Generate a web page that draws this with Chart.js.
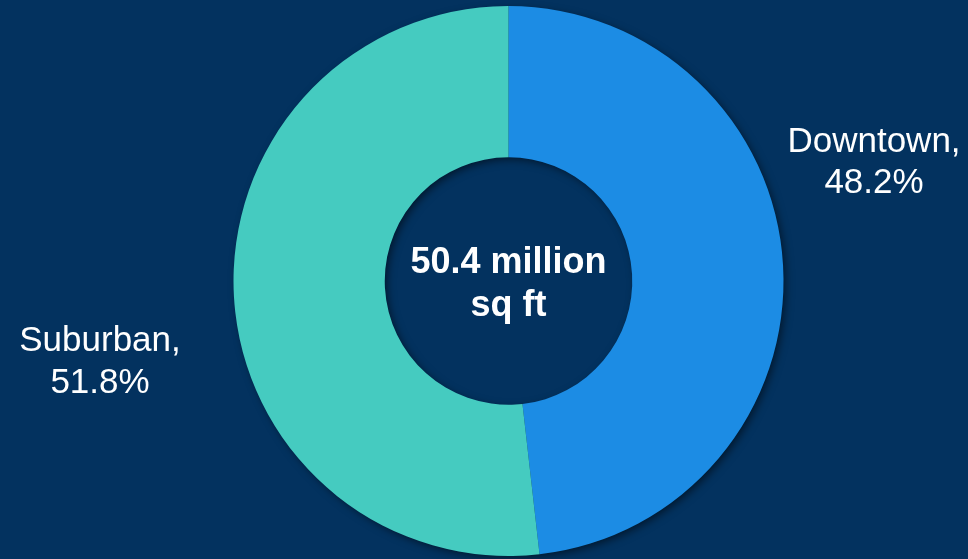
<!DOCTYPE html>
<html lang="en">
<head>
  <meta charset="UTF-8" />
  <title>Office space by location</title>
  <script src="https://cdn.jsdelivr.net/npm/chart.js"></script>
  <style>
    html, body { margin: 0; padding: 0; background: #03325f; }
    #wrap { position: relative; width: 968px; height: 559px; }
  </style>
</head>
<body>
  <div id="wrap"><canvas id="chartSpace"></canvas></div>

<script>
  // Date
  const categories = ['Downtown', 'Suburban'];
  const shares = [48.2, 51.8];
  const sliceColors = ['#1c8ce4', '#45cbc0'];
  const totalText = ['50.4 million', 'sq ft'];

  const FONT = '"Liberation Sans", Arial, sans-serif';

  // umbra sub inel + texte
  const ringExtras = {
    id: 'ringExtras',
    beforeDatasetsDraw(chart) {
      const arc = chart.getDatasetMeta(0).data[0];
      if (!arc) return;
      const { x, y, outerRadius, innerRadius } = arc.getProps(['x', 'y', 'outerRadius', 'innerRadius'], true);
      const ctx = chart.ctx;
      ctx.save();
      ctx.shadowColor = 'rgba(0, 0, 0, 0.55)';
      ctx.shadowBlur = 9;
      ctx.shadowOffsetX = 3;
      ctx.shadowOffsetY = 3;
      ctx.fillStyle = '#03325f';
      ctx.beginPath();
      ctx.arc(x, y, outerRadius - 1, 0, Math.PI * 2);
      ctx.arc(x, y, innerRadius + 1, 0, Math.PI * 2, true);
      ctx.fill();
      ctx.restore();
    },
    afterDatasetsDraw(chart) {
      const ctx = chart.ctx;
      const arc = chart.getDatasetMeta(0).data[0];
      const { x, y } = arc.getProps(['x', 'y'], true);
      ctx.save();
      ctx.fillStyle = '#ffffff';
      ctx.textAlign = 'center';
      ctx.textBaseline = 'alphabetic';

      ctx.font = 'bold 36px ' + FONT;
      ctx.fillText(totalText[0], x, y - 8);
      ctx.fillText(totalText[1], x, y + 35);

      ctx.font = '35px ' + FONT;
      ctx.fillText(categories[0] + ',', 874, 152);
      ctx.fillText(shares[0].toFixed(1) + '%', 874, 193);
      ctx.fillText(categories[1] + ',', 100, 351);
      ctx.fillText(shares[1].toFixed(1) + '%', 100, 393);
      ctx.restore();
    }
  };

  new Chart(document.getElementById('chartSpace'), {
    type: 'doughnut',
    data: {
      labels: categories,
      datasets: [{
        data: shares,
        backgroundColor: sliceColors,
        borderWidth: 0,
        hoverOffset: 0
      }]
    },
    options: {
      responsive: true,
      maintainAspectRatio: false,
      animation: false,
      cutout: '45%',
      layout: { padding: { top: 6, bottom: 3, left: 49, right: 0 } },
      plugins: {
        legend: { display: false },
        tooltip: { enabled: false }
      }
    },
    plugins: [ringExtras]
  });
</script>
</body>
</html>
